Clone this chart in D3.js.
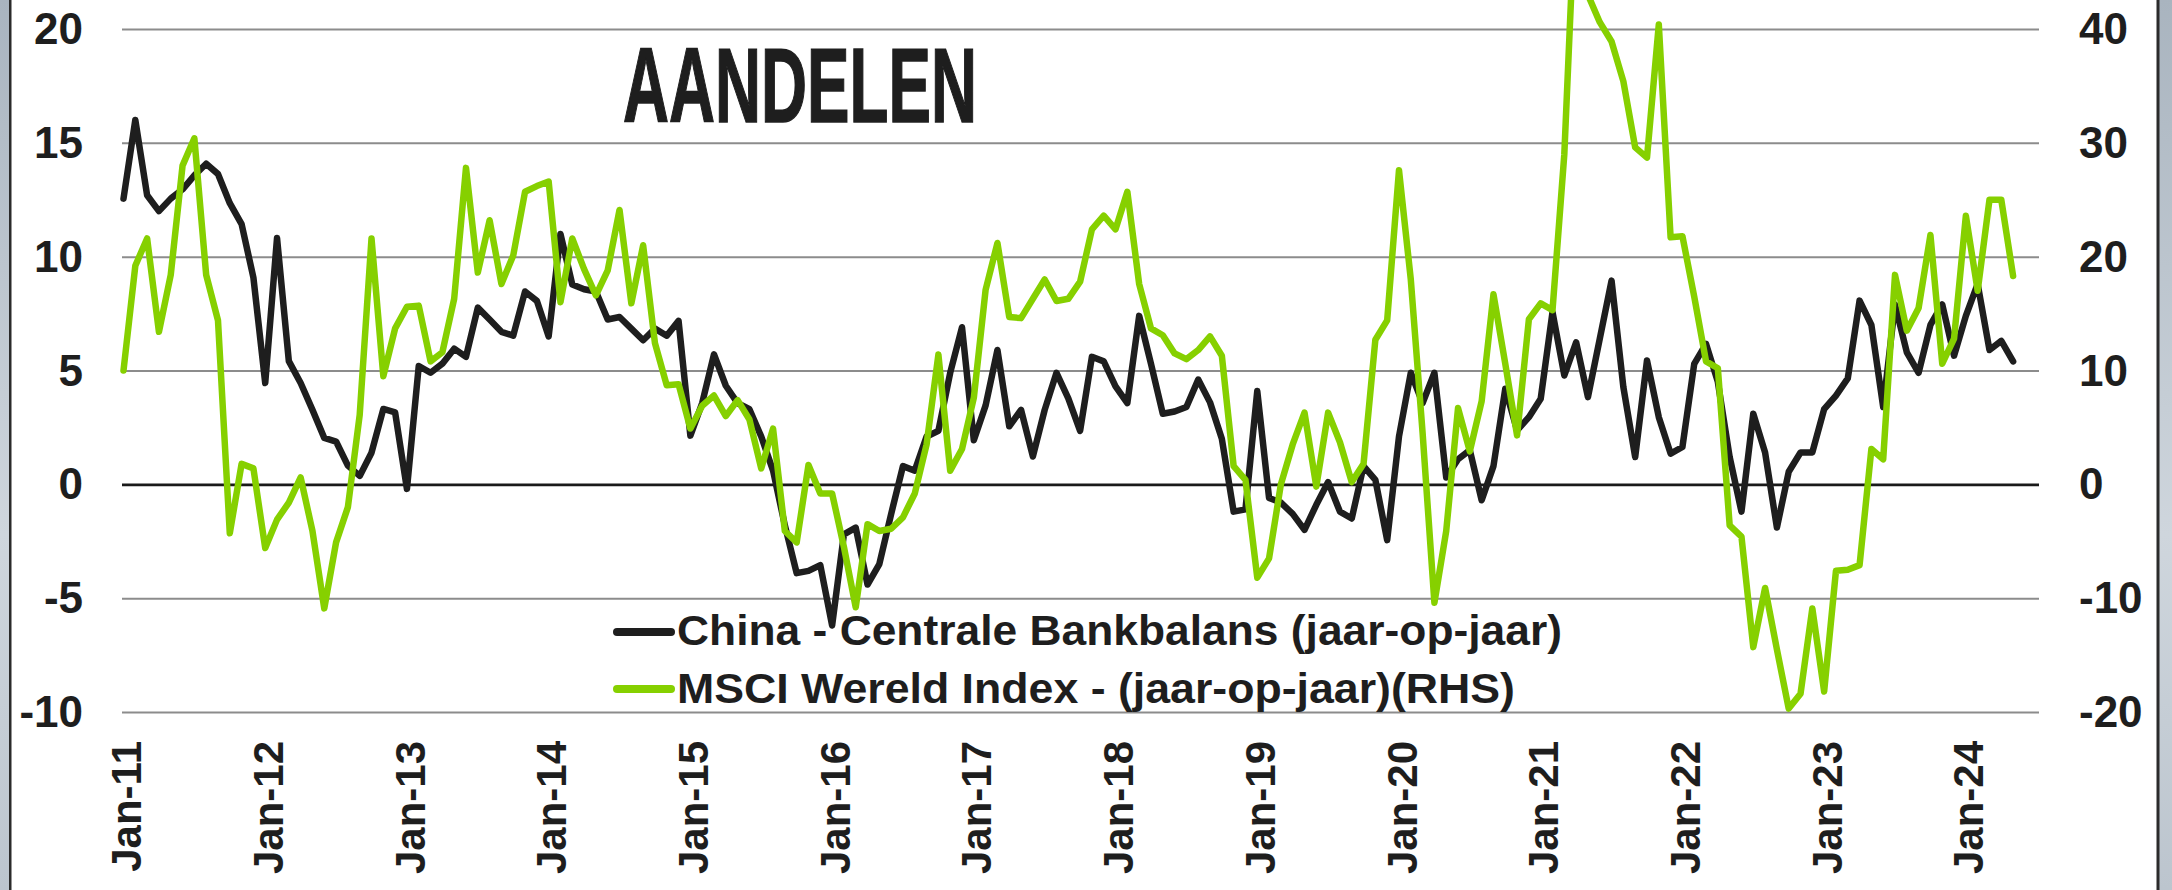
<!DOCTYPE html>
<html>
<head>
<meta charset="utf-8">
<script src="https://cdn.jsdelivr.net/npm/d3@7"></script>
<style>
  html, body { margin: 0; padding: 0; background: #fff; }
  svg { display: block; }
  text { font-family: "Liberation Sans", Arial, Helvetica, sans-serif; font-weight: bold; fill: #1e1e1e; }
</style>
</head>
<body>
<svg id="chart" width="2172" height="890"></svg>
<script>
// ---------- DATA ----------
const startYear = 2011;
const monthCount = 161; // Jan-2011 .. May-2024
const categories = [];
for (let k = 0; k < monthCount; k++) {
  const yy = startYear + Math.floor(k / 12);
  const mm = (k % 12) + 1;
  categories.push(yy + "-" + String(mm).padStart(2, "0"));
}

// China - Centrale Bankbalans (jaar-op-jaar), left axis
const chinaCB = [
  12.55,16.0,12.7,12.0,12.55,12.96,13.57,14.08,13.63,12.35,
  11.43,9.08,4.45,10.82,5.41,4.45,3.27,2.04,1.88,0.82,
  0.37,1.39,3.31,3.16,-0.2,5.2,4.9,5.3,5.96,5.6,
  7.76,7.24,6.7,6.53,8.47,8.06,6.5,11.0,8.78,8.57,
  8.47,7.24,7.35,6.84,6.33,6.84,6.53,7.18,2.14,3.57,
  5.71,4.33,3.57,3.3,2.1,0.6,-1.8,-3.9,-3.8,-3.55,
  -6.2,-2.2,-1.9,-4.4,-3.5,-1.3,0.8,0.6,2.1,2.35,
  4.9,6.9,1.94,3.47,5.9,2.55,3.27,1.22,3.27,4.9,
  3.78,2.35,5.6,5.4,4.3,3.57,7.4,5.3,3.1,3.2,
  3.4,4.6,3.6,2.0,-1.2,-1.1,4.1,-0.6,-0.8,-1.3,
  -2.0,-0.9,0.1,-1.2,-1.5,0.8,0.2,-2.45,2.1,4.9,
  3.57,4.9,0.3,1.1,1.5,-0.7,0.8,4.2,2.37,2.95,
  3.76,7.56,4.78,6.24,3.83,6.39,8.95,4.27,1.2,5.44,
  2.95,1.35,1.64,5.29,6.17,4.5,1.2,-1.2,3.1,1.4,
  -1.9,0.55,1.4,1.4,3.3,3.9,4.65,8.07,7.0,3.4,
  7.9,5.8,4.9,7.0,7.9,5.65,7.4,8.8,5.9,6.3,
  5.4
];

// MSCI Wereld Index - (jaar-op-jaar) (RHS), right axis
const msciWorld = [
  10.0,19.2,21.6,13.4,18.4,28.0,30.4,18.4,14.4,-4.3,
  1.8,1.4,-5.6,-3.1,-1.6,0.6,-4.1,-10.9,-5.1,-2.0,
  6.1,21.6,9.5,13.7,15.6,15.7,10.8,11.6,16.3,27.8,
  18.6,23.2,17.6,20.1,25.7,26.2,26.6,16.0,21.6,18.9,
  16.6,18.8,24.1,15.9,21.0,12.4,8.7,8.8,4.9,6.9,
  7.8,6.0,7.4,5.7,1.4,4.9,-4.1,-5.1,1.7,-0.8,
  -0.8,-5.5,-10.8,-3.5,-4.1,-3.9,-2.9,-0.8,3.5,11.4,
  1.2,3.1,7.6,17.1,21.2,14.7,14.6,16.3,18.0,16.1,
  16.3,17.8,22.4,23.6,22.4,25.7,17.6,13.7,13.1,11.5,
  11.0,11.8,13.0,11.3,1.6,0.4,-8.2,-6.5,0.0,3.5,
  6.3,-0.2,6.3,3.7,0.2,1.8,12.7,14.4,27.6,18.0,
  4.5,-10.4,-4.1,6.7,2.9,7.3,16.7,10.6,4.3,14.5,
  15.9,15.3,29.0,53.0,43.0,40.6,38.9,35.4,29.6,28.7,
  40.4,21.7,21.8,16.5,10.8,10.2,-3.6,-4.6,-14.3,-9.1,
  -14.5,-19.7,-18.4,-10.9,-18.2,-7.6,-7.5,-7.1,3.1,2.2,
  18.4,13.5,15.5,21.9,10.6,12.8,23.6,17.0,25.0,25.0,
  18.3
];

const leftTicks = [-10, -5, 0, 5, 10, 15, 20];
const rightTicks = [-20, -10, 0, 10, 20, 30, 40];
const xTickCategories = ["2011-01","2012-01","2013-01","2014-01","2015-01","2016-01","2017-01",
                         "2018-01","2019-01","2020-01","2021-01","2022-01","2023-01","2024-01"];
const xTickLabels = ["Jan-11","Jan-12","Jan-13","Jan-14","Jan-15","Jan-16","Jan-17",
                     "Jan-18","Jan-19","Jan-20","Jan-21","Jan-22","Jan-23","Jan-24"];
const title = "AANDELEN";
const seriesNames = ["China - Centrale Bankbalans (jaar-op-jaar)", "MSCI Wereld Index - (jaar-op-jaar)(RHS)"];

// ---------- LAYOUT ----------
const W = 2172, H = 890;
const plotLeft = 122, plotRight = 2039;
const yTop = 29, yBottom = 712;
const colBlack = "#1e1e1e", colGreen = "#86d000";

const svg = d3.select("#chart");
svg.append("rect").attr("width", W).attr("height", H).attr("fill", "#fff");

// frame edges (screenshot borders)
const defs = svg.append("defs");
const grad = defs.append("linearGradient").attr("id", "edge").attr("x1", 0).attr("y1", 0).attr("x2", 0).attr("y2", 1);
grad.append("stop").attr("offset", "0%").attr("stop-color", "#a9b4bf");
grad.append("stop").attr("offset", "60%").attr("stop-color", "#cfd6dd");
grad.append("stop").attr("offset", "100%").attr("stop-color", "#bcc5ce");
svg.append("rect").attr("x", 0).attr("y", 0).attr("width", 9).attr("height", H).attr("fill", "url(#edge)");
svg.append("rect").attr("x", 9).attr("y", 0).attr("width", 2.5).attr("height", H).attr("fill", "#2b2b2b");
svg.append("rect").attr("x", 2159).attr("y", 0).attr("width", 13).attr("height", H).attr("fill", "url(#edge)");
svg.append("rect").attr("x", 2156.5).attr("y", 0).attr("width", 3).attr("height", H).attr("fill", "#2b2b2b");

// scales
const x = d3.scalePoint().domain(categories).range([123.5, 123.5 + 11.81 * (monthCount - 1)]);
const yL = d3.scaleLinear().domain([-10, 20]).range([yBottom, yTop]);
const yR = d3.scaleLinear().domain([-20, 40]).range([yBottom, yTop]);

// gridlines
const grid = svg.append("g").attr("transform", `translate(${plotRight},0)`)
  .call(d3.axisLeft(yL).tickValues(leftTicks).tickSize(plotRight - plotLeft).tickFormat(""));
grid.select(".domain").remove();
grid.selectAll(".tick line")
  .attr("stroke", d => d === 0 ? "#1a1a1a" : "#8c8c8c")
  .attr("stroke-width", d => d === 0 ? 2.6 : 2);

// left axis labels
const axL = svg.append("g").attr("transform", "translate(83,0)")
  .call(d3.axisLeft(yL).tickValues(leftTicks).tickSize(0).tickPadding(0).tickFormat(d => String(d)));
axL.select(".domain").remove();
axL.selectAll("text").style("font-size", "44px").attr("fill", colBlack).attr("dy", "0.33em");

// right axis labels
const axR = svg.append("g").attr("transform", "translate(2079,0)")
  .call(d3.axisRight(yR).tickValues(rightTicks).tickSize(0).tickPadding(0).tickFormat(d => String(d)));
axR.select(".domain").remove();
axR.selectAll("text").style("font-size", "44px").attr("fill", colBlack).attr("dy", "0.33em");

// bottom axis labels (rotated)
const axB = svg.append("g").attr("transform", "translate(0,741)")
  .call(d3.axisBottom(x).tickValues(xTickCategories).tickSize(0)
    .tickFormat(d => xTickLabels[xTickCategories.indexOf(d)]));
axB.select(".domain").remove();
axB.selectAll("text")
  .attr("transform", "rotate(-90)")
  .attr("x", 0).attr("y", 2).attr("dy", "0.36em")
  .style("text-anchor", "end")
  .style("font-size", "42px")
  .attr("fill", colBlack);

// title
svg.append("text").attr("x", 623).attr("y", 122)
  .attr("textLength", 354).attr("lengthAdjust", "spacingAndGlyphs")
  .style("font-family", "'Liberation Sans Narrow', 'Liberation Sans', Arial, sans-serif")
  .style("font-size", "105px")
  .attr("fill", colBlack).attr("stroke", colBlack).attr("stroke-width", 1.5)
  .text(title);

// lines
const lineL = d3.line().x((d, i) => x(categories[i])).y(d => yL(d)).curve(d3.curveLinear);
const lineR = d3.line().x((d, i) => x(categories[i])).y(d => yR(d)).curve(d3.curveLinear);

svg.append("path").datum(chinaCB).attr("d", lineL)
  .attr("fill", "none").attr("stroke", colBlack).attr("stroke-width", 6.5)
  .attr("stroke-linejoin", "round").attr("stroke-linecap", "round");
svg.append("path").datum(msciWorld).attr("d", lineR)
  .attr("fill", "none").attr("stroke", colGreen).attr("stroke-width", 6.5)
  .attr("stroke-linejoin", "round").attr("stroke-linecap", "round");

// legend
const legend = svg.append("g");
const legendRows = [
  { name: seriesNames[0], color: colBlack, yLine: 632, yText: 645, len: 885 },
  { name: seriesNames[1], color: colGreen, yLine: 689, yText: 703, len: 838 }
];
legendRows.forEach(r => {
  legend.append("line").attr("x1", 617).attr("x2", 671).attr("y1", r.yLine).attr("y2", r.yLine)
    .attr("stroke", r.color).attr("stroke-width", 8).attr("stroke-linecap", "round");
  legend.append("text").attr("x", 677).attr("y", r.yText)
    .attr("textLength", r.len).attr("lengthAdjust", "spacingAndGlyphs")
    .style("font-size", "43px").attr("fill", colBlack).text(r.name);
});
</script>
</body>
</html>
